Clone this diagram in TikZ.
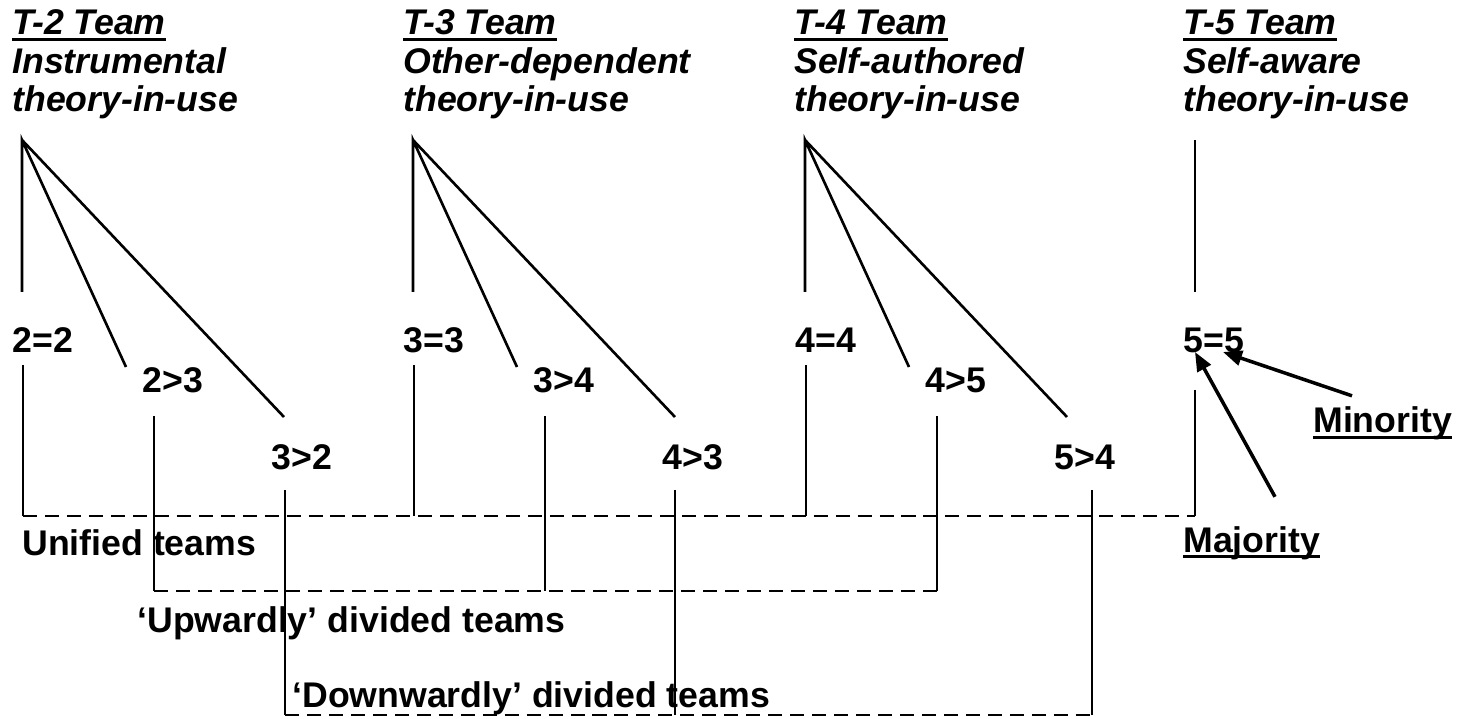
\documentclass[tikz,border=0pt]{standalone}
\usepackage{fontspec}
\setmainfont{Liberation Sans}
\usetikzlibrary{arrows.meta,calc}
\newcommand{\ulin}[1]{\setbox0\hbox{#1}\rlap{\rule[-0.17em]{\wd0}{0.09em}}\box0}

\begin{document}
\begin{tikzpicture}[x=0.02cm,y=-0.02cm,
    link/.style={line width=1.5pt},
    tie/.style={line width=1.5pt,dash pattern=on 8pt off 4.5pt},
    lbl/.style={anchor=base west,inner sep=0pt,font=\fontsize{20.3}{22}\selectfont\bfseries},
    ttl/.style={lbl,align=left,font=\fontsize{20.3}{22}\selectfont\bfseries\itshape},
    ptr/.style={line width=2pt,-{Triangle[length=0.38cm,width=0.3cm]}}]
			%%%%% FRAME %%%%%
			\useasboundingbox (0,0) rectangle (1461,719);
			
			%%%%% TITLES %%%%% (base = last line)
			\node[ttl] (t2) at (12,112) {\ulin{T-2 Team}\\Instrumental\\theory-in-use};
			\node[ttl] (t3) at (403,112) {\ulin{T-3 Team}\\Other-dependent\\theory-in-use};
			\node[ttl] (t4) at (794,112) {\ulin{T-4 Team}\\Self-authored\\theory-in-use};
			\node[ttl] (t5) at (1183,112) {\ulin{T-5 Team}\\Self-aware\\theory-in-use};
			
			%%%%% BRANCHES %%%%%
			\foreach \c/\x/\d in {2/22/263,3/413/262,4/805/287}{
				\pgfmathtruncatemacro{\n}{\c+1}
				\coordinate (top\c) at (\x,140);
				\node[lbl] (eq\c) at (\x-10,353) {\c=\c};
				\node[lbl] (up\c) at (\x+120,393) {\c>\n};
				\node[lbl] (dn\c) at (\x+249,470) {\n>\c};
				
				\coordinate (eqin\c) at (\x,292);
				\coordinate (upin\c) at (\x+104,367);
				\coordinate (dnin\c) at (\x+262,417);
				\draw[link] (eqin\c) -- (top\c) -- (upin\c) (top\c) -- (dnin\c);
				
				\coordinate (eqout\c) at (\x+1,365);
				\coordinate (upout\c) at (\x+132,416);
				\coordinate (dnout\c) at (\x+\d,490);
				\coordinate (uni\c) at (\x+1,516);
				\coordinate (upw\c) at (\x+132,591);
				\coordinate (dnw\c) at (\x+\d,715);
				\draw[link] (eqout\c) -- (uni\c) (upout\c) -- (upw\c) (dnout\c) -- (dnw\c);
			}
			
			% T-5 has no split
			\coordinate (top5) at (1195,140);
			\coordinate (eqin5) at (1195,292);
			\node[lbl] (eq5) at (1183,353) {5=5};
			\coordinate (eqout5) at (1195,390);
			\coordinate (uni5) at (1195,516);
			\draw[link] (top5) -- (eqin5) (eqout5) -- (uni5);
			
			%%%%% GROUPS %%%%%
			\draw[tie] (uni2) -- (uni5);
			\draw[tie] (upw2) -- (upw4);
			\draw[tie] (dnw2) -- (dnw4);
			\node[lbl] (unified) at (22,555) {Unified teams};
			\node[lbl] (upward) at (137,632) {‘Upwardly’ divided teams};
			\node[lbl] (downward) at (292,707) {‘Downwardly’ divided teams};
			
			%%%%% MINORITY / MAJORITY %%%%%
			\node[lbl] (minor) at (1313,433) {\ulin{Minority}};
			\node[lbl] (major) at (1183,552) {\ulin{Majority}};
			\coordinate (mintail) at ($(minor.north west)+(39,-11)$);
			\coordinate (majtail) at ($(major.north west)+(92,-29)$);
			\coordinate (mintip) at ($(eq5.base west)+(40,-1)$);
			\coordinate (majtip) at ($(eq5.base west)+(12,-1)$);
			\draw[ptr] (mintail) -- (mintip);
			\draw[ptr] (majtail) -- (majtip);
			
			%%%%% END %%%%%
\end{tikzpicture}
\end{document}
